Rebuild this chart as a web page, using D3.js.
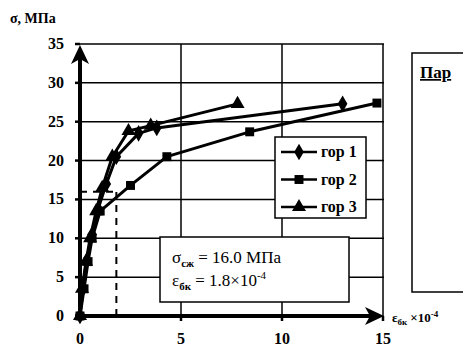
<!DOCTYPE html>
<html>
<head>
<meta charset="utf-8">
<script src="https://cdn.jsdelivr.net/npm/d3@7"></script>
<style>
  body { margin: 0; background: #fff; }
</style>
</head>
<body>
<div id="chart"></div>
<script>
// values
var xTicks = [0, 5, 10, 15];
var yTicks = [0, 5, 10, 15, 20, 25, 30, 35];
var seriesNames = ["гор 1", "гор 2", "гор 3"];
var gor1 = [[0, 0], [0.15, 3.5], [0.3, 7], [0.6, 10.5], [0.9, 13.8], [1.3, 17], [1.8, 20.5], [2.9, 23.5], [3.8, 24.2], [13, 27.3]];
var gor2 = [[0, 0], [0.2, 3.5], [0.4, 7], [0.6, 10], [1.0, 13.5], [2.5, 16.8], [4.3, 20.5], [8.4, 23.7], [14.7, 27.4]];
var gor3 = [[0, 0], [0.1, 3.5], [0.3, 7], [0.5, 10], [0.8, 13.5], [1.1, 16.5], [1.6, 20.5], [2.4, 23.8], [3.5, 24.5], [7.8, 27.3]];
var sigmaCx = 16.0, epsCx = 1.8;

var width = 463, height = 346;
var svg = d3.select("#chart").append("svg")
    .attr("width", width)
    .attr("height", height)
    .attr("font-family", "'Liberation Serif', 'Times New Roman', serif");

var x = d3.scaleLinear().domain([0, 15]).range([80, 383]);
var y = d3.scaleLinear().domain([0, 35]).range([316, 44]);

// horizontal grid
svg.selectAll(".hgrid")
    .data(yTicks.slice(1))
    .enter().append("line")
    .attr("x1", x(0)).attr("x2", x(15) + 1)
    .attr("y1", function (d) { return y(d); })
    .attr("y2", function (d) { return y(d); })
    .attr("stroke", "#000").attr("stroke-width", 1.5);

// vertical grid
svg.selectAll(".vgrid")
    .data([5, 10, 15])
    .enter().append("line")
    .attr("x1", function (d) { return x(d); })
    .attr("x2", function (d) { return x(d); })
    .attr("y1", y(35)).attr("y2", y(0))
    .attr("stroke", "#000").attr("stroke-width", 1.5);

// ticks
svg.selectAll(".ytick")
    .data(yTicks)
    .enter().append("line")
    .attr("x1", x(0) - 5).attr("x2", x(0))
    .attr("y1", function (d) { return y(d); })
    .attr("y2", function (d) { return y(d); })
    .attr("stroke", "#000").attr("stroke-width", 2.5);

svg.selectAll(".xtick")
    .data(xTicks)
    .enter().append("line")
    .attr("x1", function (d) { return x(d); })
    .attr("x2", function (d) { return x(d); })
    .attr("y1", y(0)).attr("y2", y(0) + 5)
    .attr("stroke", "#000").attr("stroke-width", 2.5);

// tick labels
svg.selectAll(".ylabel")
    .data(yTicks)
    .enter().append("text")
    .attr("x", 64)
    .attr("y", function (d) { return y(d) + 5; })
    .attr("text-anchor", "end")
    .style("font-size", "16px")
    .style("font-weight", "bold")
    .text(function (d) { return d; });

svg.selectAll(".xlabel")
    .data(xTicks)
    .enter().append("text")
    .attr("x", function (d) { return x(d); })
    .attr("y", 344)
    .attr("text-anchor", "middle")
    .style("font-size", "16px")
    .style("font-weight", "bold")
    .text(function (d) { return d; });

// dashed guide lines for sigma_cx / eps
svg.append("line")
    .attr("x1", x(epsCx)).attr("x2", x(epsCx))
    .attr("y1", y(0)).attr("y2", y(sigmaCx))
    .attr("stroke", "#000").attr("stroke-width", 2)
    .attr("stroke-dasharray", "7,6");
svg.append("line")
    .attr("x1", x(0)).attr("x2", x(epsCx))
    .attr("y1", y(sigmaCx)).attr("y2", y(sigmaCx))
    .attr("stroke", "#000").attr("stroke-width", 2)
    .attr("stroke-dasharray", "7,6");

// series
var line = d3.line()
    .x(function (d) { return x(d[0]); })
    .y(function (d) { return y(d[1]); });

var series = [
    {name: seriesNames[0], data: gor1, sym: d3.symbolDiamond, size: 80},
    {name: seriesNames[1], data: gor2, sym: d3.symbolSquare, size: 80},
    {name: seriesNames[2], data: gor3, sym: d3.symbolTriangle, size: 85}
];

series.forEach(function (s) {
    svg.append("path")
        .datum(s.data)
        .attr("d", line)
        .attr("fill", "none")
        .attr("stroke", "#000")
        .attr("stroke-width", 3)
        .attr("stroke-linejoin", "round");
    svg.selectAll(null)
        .data(s.data)
        .enter().append("path")
        .attr("d", d3.symbol().type(s.sym).size(s.size))
        .attr("transform", function (d) { return "translate(" + x(d[0]) + "," + y(d[1]) + ")"; })
        .attr("fill", "#000");
});

// axes with arrow heads
svg.append("line")
    .attr("x1", x(0)).attr("x2", x(0))
    .attr("y1", y(0)).attr("y2", y(35) + 12)
    .attr("stroke", "#000").attr("stroke-width", 4);
svg.append("path")
    .attr("d", "M" + x(0) + "," + (y(35) + 1) + " l9,19 l-9,-5 l-9,5 Z")
    .attr("fill", "#000");
svg.append("line")
    .attr("x1", x(0)).attr("x2", x(15) - 10)
    .attr("y1", y(0)).attr("y2", y(0))
    .attr("stroke", "#000").attr("stroke-width", 4);
svg.append("path")
    .attr("d", "M" + (x(15) + 1) + "," + y(0) + " l-19,-9 l5,9 l-5,9 Z")
    .attr("fill", "#000");
svg.append("circle")
    .attr("cx", x(0)).attr("cy", y(0)).attr("r", 5).attr("fill", "#000");

// axis titles
svg.append("text")
    .attr("x", 10).attr("y", 23)
    .style("font-size", "14px").style("font-weight", "bold")
    .text("σ, МПа");

var xt = svg.append("text")
    .attr("x", 392).attr("y", 322)
    .style("font-size", "13px").style("font-weight", "bold");
xt.append("tspan").text("ε");
xt.append("tspan").attr("dy", 3).style("font-size", "9px").text("бк");
xt.append("tspan").attr("dy", -3).attr("dx", 3).text("×10");
xt.append("tspan").attr("dy", -5).style("font-size", "9px").text("-4");

// legend
var lg = svg.append("g");
lg.append("rect")
    .attr("x", 275).attr("y", 137)
    .attr("width", 91).attr("height", 81)
    .attr("fill", "#fff").attr("stroke", "#000").attr("stroke-width", 1.5);
series.forEach(function (s, i) {
    var ly = 152 + i * 27.5;
    lg.append("line")
        .attr("x1", 281).attr("x2", 317)
        .attr("y1", ly).attr("y2", ly)
        .attr("stroke", "#000").attr("stroke-width", 2.5);
    lg.append("path")
        .attr("d", d3.symbol().type(s.sym).size(s.size))
        .attr("transform", "translate(299," + ly + ")")
        .attr("fill", "#000");
    lg.append("text")
        .attr("x", 321).attr("y", ly + 5)
        .style("font-size", "16px").style("font-weight", "bold")
        .text(s.name);
});

// annotation box
var ab = svg.append("g");
ab.append("rect")
    .attr("x", 160).attr("y", 237)
    .attr("width", 189).attr("height", 65)
    .attr("fill", "#fff").attr("stroke", "#000").attr("stroke-width", 1.5);
var t1 = ab.append("text").attr("x", 172).attr("y", 263)
    .style("font-size", "17px");
t1.append("tspan").text("σ");
t1.append("tspan").attr("dy", 4).style("font-size", "11px").style("font-weight", "bold").text("сж");
t1.append("tspan").attr("dy", -4).text(" = " + sigmaCx.toFixed(1) + " МПа");
var t2 = ab.append("text").attr("x", 172).attr("y", 286)
    .style("font-size", "17px");
t2.append("tspan").text("ε");
t2.append("tspan").attr("dy", 4).style("font-size", "11px").style("font-weight", "bold").text("бк");
t2.append("tspan").attr("dy", -4).text(" = " + epsCx + "×10");
t2.append("tspan").attr("dy", -7).style("font-size", "11px").text("-4");

// neighbouring panel, cut off at the edge
svg.append("rect")
    .attr("x", 412).attr("y", 53)
    .attr("width", 60).attr("height", 239)
    .attr("fill", "#fff").attr("stroke", "#000").attr("stroke-width", 1.5);
svg.append("text")
    .attr("x", 420).attr("y", 78)
    .style("font-size", "17px").style("font-weight", "bold")
    .style("text-decoration", "underline")
    .text("Пар");
</script>
</body>
</html>
